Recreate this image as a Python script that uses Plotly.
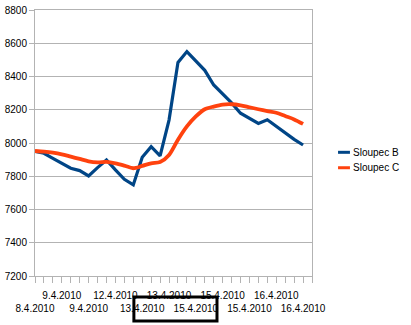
import plotly.graph_objects as go

# ---- data ----
series_names = ["Sloupec B", "Sloupec C"]
sloupec_b = [7950, 7938, 7908, 7878, 7848, 7834, 7802, 7852, 7898, 7838,
             7782, 7748, 7914, 7978, 7923, 8138, 8485, 8550, 8495, 8437,
             8349, 8296, 8241, 8179, 8149, 8118, 8140, 8100, 8062, 8022, 7988]
sloupec_c = [7952, 7948, 7942, 7932, 7918, 7904, 7890, 7884, 7886, 7878,
             7864, 7848, 7862, 7878, 7885, 7928, 8020, 8100, 8160, 8203,
             8219, 8231, 8233, 8227, 8215, 8203, 8192, 8182, 8162, 8142, 8115]
label_positions = [0, 3, 6, 9, 12, 15, 18, 21, 24, 27, 30]
date_labels = ["8.4.2010", "9.4.2010", "9.4.2010", "12.4.2010", "13.4.2010",
               "13.4.2010", "15.4.2010", "15.4.2010", "15.4.2010", "16.4.2010",
               "16.4.2010"]
y_ticks = [7200, 7400, 7600, 7800, 8000, 8200, 8400, 8600, 8800]

colors = ["#004586", "#ff420e"]
grid = "#b3b3b3"
font_family = "Liberation Sans, Arial, sans-serif"

x = list(range(len(sloupec_b)))

fig = go.Figure()
fig.add_trace(go.Scatter(x=x, y=sloupec_b, mode="lines", name=series_names[0],
                         line=dict(color=colors[0], width=3.2), showlegend=False))
fig.add_trace(go.Scatter(x=x, y=sloupec_c, mode="lines", name=series_names[1],
                         line=dict(color=colors[1], width=3.8, shape="spline",
                                   smoothing=0.8), showlegend=False))

# staggered tick labels: even entries on the lower row
ticktext = [("\u00a0<br>" + t) if i % 2 == 0 else t for i, t in enumerate(date_labels)]

fig.update_xaxes(range=[0, 31], tickmode="array", tickvals=label_positions,
                 ticktext=ticktext, tickangle=0, automargin=False,
                 ticks="outside", ticklen=6, tickcolor=grid, tickwidth=1,
                 minor=dict(tick0=0, dtick=1, ticks="outside", ticklen=6,
                            tickcolor=grid, tickwidth=1, showgrid=False),
                 showgrid=False, showline=True, linecolor=grid, linewidth=1,
                 mirror=True, zeroline=False, ticklabelstandoff=4,
                 tickfont=dict(family=font_family, size=10, color="#000000"))
fig.update_yaxes(range=[7200, 8800], tickmode="array", tickvals=y_ticks,
                 ticks="outside", ticklen=5, tickcolor=grid, tickwidth=1,
                 showgrid=True, gridcolor=grid, gridwidth=1, automargin=False,
                 showline=True, linecolor=grid, linewidth=1, mirror=True,
                 zeroline=False, ticklabelstandoff=0,
                 tickfont=dict(family=font_family, size=10, color="#000000"))

# custom legend (short line swatches)
shapes = []
annotations = []
leg_y = [0.465, 0.407]
for name, col, yy in zip(series_names, colors, leg_y):
    shapes.append(dict(type="line", xref="paper", yref="paper",
                       x0=1.094, x1=1.137, y0=yy, y1=yy,
                       line=dict(color=col, width=3)))
    annotations.append(dict(xref="paper", yref="paper", x=1.139, y=yy,
                            text=name, showarrow=False, xanchor="left",
                            yanchor="middle",
                            font=dict(family=font_family, size=10, color="#000000")))

# black selection rectangle around the lower labels
shapes.append(dict(type="rect", xref="paper", yref="paper",
                   x0=0.357, x1=0.657, y0=-0.079, y1=-0.169,
                   line=dict(color="#000000", width=3)))

fig.update_layout(width=411, height=325,
                  margin=dict(l=35, r=99, t=10, b=49, pad=0),
                  paper_bgcolor="white", plot_bgcolor="white",
                  shapes=shapes, annotations=annotations,
                  font=dict(family=font_family, size=10, color="#000000"))

fig.write_html("out.html")
